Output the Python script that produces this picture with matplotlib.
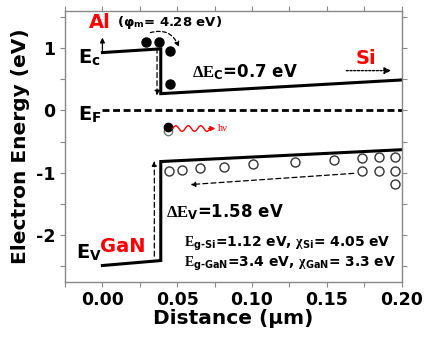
import numpy as np
import matplotlib
matplotlib.use("Agg")
import matplotlib.pyplot as plt

plt.rcParams['font.family'] = ['DejaVu Sans']
plt.rcParams['font.weight'] = 'bold'
plt.rcParams['axes.labelweight'] = 'bold'
plt.rcParams['mathtext.fontset'] = 'custom'
plt.rcParams['mathtext.rm'] = 'Liberation Serif'
plt.rcParams['mathtext.it'] = 'Liberation Serif'
plt.rcParams['mathtext.bf'] = 'DejaVu Sans:bold'

# band edges (distance in um, energy in eV)
cb_x = [0.0, 0.039, 0.039, 0.2]
cb_y = [0.93, 0.99, 0.27, 0.49]
vb_x = [0.0, 0.039, 0.039, 0.2]
vb_y = [-2.49, -2.41, -0.82, -0.63]
ef_x = [0.0, 0.2]
ef_y = [0.0, 0.0]

# electrons (filled) and holes (open)
el_x = [0.0293, 0.0376, 0.045, 0.045]
el_y = [1.10, 1.10, 0.96, 0.43]
hole_x = [0.0446, 0.0533, 0.0649, 0.0811, 0.1007, 0.1286, 0.1545,
          0.1735, 0.185, 0.1953, 0.1735, 0.185, 0.1953, 0.1953]
hole_y = [-0.968, -0.957, -0.925, -0.904, -0.866, -0.834, -0.797,
          -0.770, -0.754, -0.754, -0.973, -0.973, -0.973, -1.18]
pair_x = 0.0435
pair_y = -0.29

xticks = [0.00, 0.05, 0.10, 0.15, 0.20]
yticks = [-2, -1, 0, 1]

fig = plt.figure(figsize=(4.25, 3.39), dpi=100)
ax = fig.add_axes([0.153, 0.169, 0.792, 0.799])

ax.plot(cb_x, cb_y, color='black', lw=2.2, solid_joinstyle='miter')
ax.plot(vb_x, vb_y, color='black', lw=2.2, solid_joinstyle='miter')
ax.plot(ef_x, ef_y, color='black', lw=2.0, dashes=(2.5, 1.3))

ax.plot(el_x, el_y, 'o', color='black', ms=6.5)
ax.plot(hole_x, hole_y, 'o', mfc='white', mec='#333333', mew=1.0, ms=6.5)
ax.plot([pair_x], [pair_y - 0.04], 'o', mfc='white', mec='#777777', mew=1.0, ms=6)
ax.plot([pair_x], [pair_y + 0.02], 'o', color='black', ms=6)

# arrows
dash_arrow = dict(arrowstyle='-|>', color='black', lw=0.9, ls=(0, (4, 2.5)),
                  mutation_scale=7, shrinkA=0, shrinkB=0)
ax.annotate('', xy=(0.0365, 0.24), xytext=(0.0365, 1.0), arrowprops=dash_arrow)
ax.annotate('', xy=(0.0347, -0.81), xytext=(0.0347, -2.34), arrowprops=dash_arrow)
ax.annotate('', xy=(0.0588, -1.19), xytext=(0.168, -1.01), arrowprops=dash_arrow)
ax.annotate('', xy=(0.0, 1.17), xytext=(0.0, 0.93),
            arrowprops=dict(arrowstyle='-|>', color='black', lw=0.9,
                            mutation_scale=7, shrinkA=0, shrinkB=0))
ax.annotate('', xy=(0.193, 0.64), xytext=(0.163, 0.64),
            arrowprops=dict(arrowstyle='-|>', color='black', lw=1.0, ls=(0, (1.5, 1.2)),
                            mutation_scale=10, shrinkA=0, shrinkB=0))
ax.annotate('', xy=(0.051, 1.02), xytext=(0.032, 1.25),
            arrowprops=dict(arrowstyle='-|>', color='black', lw=0.9, ls=(0, (3, 2)),
                            mutation_scale=7, shrinkA=0, shrinkB=0,
                            connectionstyle='arc3,rad=-0.45'))

# wavy photon arrow
wx = np.linspace(0.047, 0.072, 60)
wy = pair_y + 0.045 * np.sin((wx - 0.047) / 0.025 * 3 * 2 * np.pi)
ax.plot(wx, wy, color='red', lw=1.0)
ax.annotate('', xy=(0.0755, pair_y), xytext=(0.071, pair_y),
            arrowprops=dict(arrowstyle='-|>', color='red', lw=1.0,
                            mutation_scale=7, shrinkA=0, shrinkB=0))
ax.text(0.0775, pair_y, 'hν', color='red', fontsize=7.5, fontweight='normal',
        family='Liberation Serif', va='center')

# labels
ax.text(-0.0015, 1.41, 'Al', color='red', fontsize=14, ha='center', va='center')
ax.text(0.0095, 1.41, '(φ$_\\mathbf{m}$= 4.28 eV)', fontsize=9.5, va='center')
ax.text(-0.0164, 0.75, 'E$_\\mathbf{c}$', fontsize=14)
ax.text(-0.0164, -0.16, 'E$_\\mathbf{F}$', fontsize=14)
ax.text(-0.0175, -2.38, 'E$_\\mathbf{V}$', fontsize=14)
ax.text(0.0596, 0.53, r'$\Delta\mathrm{E}_\mathbf{C}$=0.7 eV', fontsize=12)
ax.text(0.0424, -1.72, r'$\Delta\mathrm{E}_\mathbf{V}$=1.58 eV', fontsize=12)
ax.text(-0.0013, -2.27, 'GaN', color='red', fontsize=14)
ax.text(0.169, 0.75, 'Si', color='red', fontsize=14)
ax.text(0.0544, -2.19, r'$\mathrm{E}_\mathbf{g‐Si}$=1.12 eV, $\chi_\mathbf{Si}$= 4.05 eV',
        fontsize=10)
ax.text(0.0544, -2.52, r'$\mathrm{E}_\mathbf{g‐GaN}$=3.4 eV, $\chi_\mathbf{GaN}$= 3.3 eV',
        fontsize=10)

ax.set_xlim(-0.021, 0.2)
ax.set_ylim(-2.75, 1.6)
ax.set_xticks(xticks)
ax.set_xticks(np.arange(-0.025, 0.2001, 0.025), minor=True)
ax.set_yticks(yticks)
ax.set_yticks(np.arange(-2.5, 1.51, 0.5), minor=True)
ax.xaxis.set_major_formatter(plt.FormatStrFormatter('%.2f'))
ax.yaxis.set_major_formatter(plt.FormatStrFormatter('%d'))
ax.tick_params(which='both', direction='out', color='#888888', top=True, right=True,
               labeltop=False, labelright=False, labelsize=12.5, length=3.5, width=0.8)
for lab in ax.get_xticklabels() + ax.get_yticklabels():
    lab.set_fontweight('bold')
for s in ax.spines.values():
    s.set_color('#888888')
    s.set_linewidth(1.0)
ax.set_xlabel('Distance (μm)', fontsize=14.5, labelpad=0)
ax.set_ylabel('Electron Energy (eV)', fontsize=14.5, labelpad=4)

fig.savefig('out.png', dpi=100)
